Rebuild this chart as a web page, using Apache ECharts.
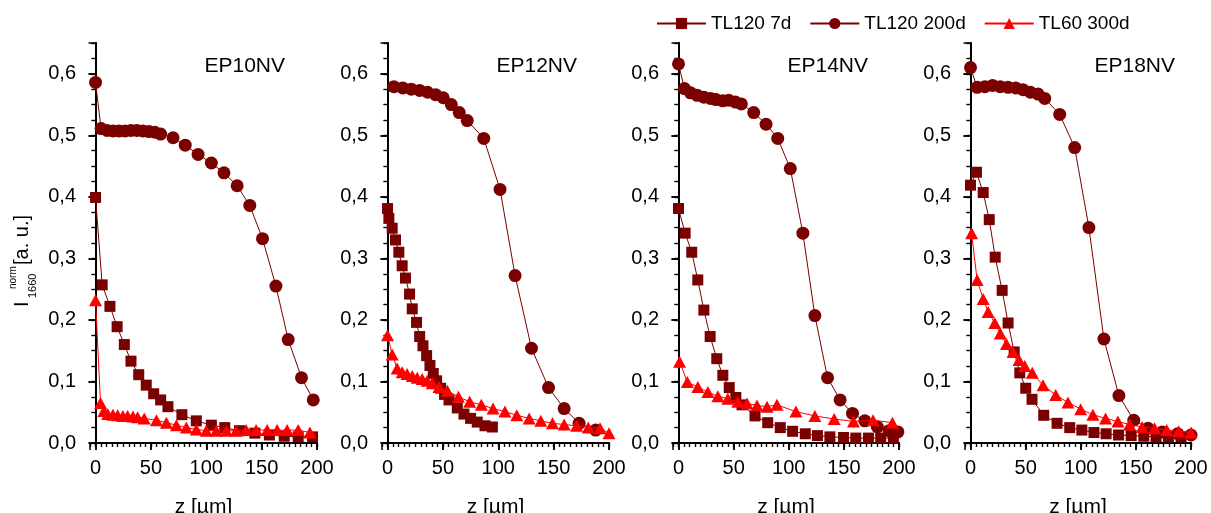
<!DOCTYPE html>
<html>
<head>
<meta charset="utf-8">
<script src="https://cdn.jsdelivr.net/npm/echarts@6/dist/echarts.min.js"></script>
<style>
html,body{margin:0;padding:0;background:#fff;}
#chart{width:1211px;height:513px;}
</style>
</head>
<body>
<div id="chart"></div>
<script>
// ---------- data (z [µm], I_1660^norm) ----------
const seriesNames = ['TL120 7d', 'TL120 200d', 'TL60 300d'];
const panelNames = ['EP10NV', 'EP12NV', 'EP14NV', 'EP18NV'];
const xTicks = [0, 50, 100, 150, 200];
const yTicks = [0, 0.1, 0.2, 0.3, 0.4, 0.5, 0.6];

const ep10_7d = [[0,0.399],[6,0.257],[13,0.222],[19.5,0.189],[26,0.160],[32,0.133],[39,0.111],[45.8,0.094],[52.5,0.080],[58.8,0.070],[65.4,0.059],[78,0.046],[91,0.036],[104.6,0.029],[116.7,0.025],[130,0.020],[143.9,0.016],[157,0.013],[170.4,0.011],[183,0.010],[196,0.010]];
const ep10_200d = [[0,0.586],[5,0.511],[10.4,0.508],[15.8,0.507],[21.2,0.507],[26.6,0.507],[32,0.508],[37.4,0.508],[42.8,0.507],[48.2,0.506],[53.6,0.505],[58.8,0.502],[70,0.496],[81,0.484],[92.6,0.469],[104.6,0.455],[116,0.439],[127.9,0.418],[139.3,0.386],[150.8,0.332],[162.9,0.255],[174,0.168],[186,0.106],[196.6,0.070]];
const ep10_300d = [[0,0.232],[4.5,0.065],[7.5,0.052],[11,0.047],[15.7,0.046],[20,0.045],[24.7,0.044],[29,0.044],[33.8,0.043],[38,0.042],[44,0.040],[55,0.037],[64,0.033],[73,0.029],[82,0.025],[91,0.022],[100,0.020],[109,0.020],[118,0.020],[127,0.020],[136,0.021],[145,0.021],[155,0.021],[164,0.021],[173,0.021],[183,0.021],[193.6,0.017]];

const ep12_7d = [[0,0.381],[1.2,0.365],[4.2,0.349],[7.2,0.330],[10.2,0.310],[13.2,0.288],[16.2,0.268],[19.9,0.242],[22.3,0.218],[26.2,0.196],[29,0.173],[32,0.158],[35.3,0.142],[38.3,0.126],[41.3,0.113],[44.3,0.101],[48,0.089],[51.5,0.079],[55.5,0.070],[63,0.057],[69,0.047],[75,0.040],[81,0.034],[88,0.028],[94.7,0.026]];
const ep12_200d = [[5.7,0.579],[13.8,0.577],[21.4,0.575],[29,0.573],[36.2,0.570],[43.4,0.566],[50.3,0.561],[57.6,0.550],[64.8,0.537],[72,0.524],[86.9,0.495],[101.6,0.412],[115.2,0.272],[130,0.154],[145.4,0.090],[159.5,0.056],[173,0.032],[188,0.021]];
const ep12_300d = [[0,0.175],[4.2,0.144],[8.7,0.121],[13.2,0.115],[17.7,0.112],[22.3,0.109],[26.8,0.106],[31.3,0.104],[35.8,0.101],[40.4,0.097],[46.4,0.091],[54,0.085],[64,0.075],[74.2,0.067],[84.7,0.062],[95.3,0.056],[106,0.051],[116.7,0.045],[127.9,0.040],[138.4,0.036],[149,0.032],[159.5,0.030],[170.7,0.028],[181.3,0.025],[191.9,0.024],[200,0.016]];

const ep14_7d = [[0,0.381],[6,0.341],[12,0.310],[17.5,0.265],[23,0.216],[28.7,0.173],[34.7,0.137],[40.2,0.110],[46,0.090],[52,0.074],[57.6,0.062],[69.4,0.044],[80.9,0.033],[92.3,0.025],[103.5,0.019],[115,0.015],[126,0.012],[137.3,0.010],[149.7,0.009],[160.8,0.008],[172.3,0.008],[183.4,0.008],[194.9,0.008]];
const ep14_200d = [[0,0.616],[5.4,0.576],[10.9,0.569],[16.9,0.565],[23,0.562],[29,0.560],[34,0.558],[40.2,0.556],[45.6,0.557],[51.6,0.554],[57,0.551],[68.2,0.537],[79.4,0.518],[90,0.495],[101.4,0.446],[112.8,0.341],[123.7,0.207],[135.2,0.106],[146.6,0.070],[157.8,0.048],[169,0.036],[180.4,0.026],[191,0.020],[199,0.018]];
const ep14_300d = [[1,0.132],[8,0.099],[17.5,0.091],[26.6,0.083],[35.7,0.076],[44.7,0.072],[53.8,0.067],[62.2,0.064],[71.2,0.061],[80.3,0.059],[89.3,0.062],[106.5,0.051],[123.7,0.044],[141.2,0.039],[158.7,0.035],[176.5,0.037],[194,0.033]];

const ep18_7d = [[0,0.419],[5.4,0.440],[11.5,0.407],[17,0.363],[22.4,0.302],[28.7,0.248],[34.1,0.195],[39.6,0.148],[44.7,0.114],[50.1,0.089],[55.8,0.071],[66.4,0.045],[78.5,0.032],[90,0.025],[101,0.021],[112,0.017],[123,0.015],[134.3,0.013],[145.7,0.012],[157.2,0.011],[168.3,0.010],[179.5,0.010],[191,0.010]];
const ep18_200d = [[0,0.610],[6,0.578],[13,0.579],[20,0.581],[27,0.579],[34,0.578],[41,0.577],[47.7,0.574],[54.3,0.570],[61.3,0.567],[67.3,0.560],[80.9,0.534],[94.5,0.480],[107.4,0.350],[121,0.169],[134.6,0.077],[148.1,0.037],[161,0.024],[174,0.018],[188,0.015],[200,0.013]];
const ep18_300d = [[1,0.341],[6,0.265],[11.5,0.234],[16,0.213],[22,0.195],[27,0.178],[32.6,0.161],[38.6,0.148],[44,0.135],[49.2,0.125],[56,0.114],[65.8,0.094],[77.3,0.078],[88.4,0.066],[99.9,0.055],[111,0.046],[122.5,0.040],[133.7,0.035],[144.3,0.030],[155.7,0.026],[166.9,0.024],[178,0.021],[188.9,0.019],[200,0.017]];

const panelData = [
  [ep10_7d, ep10_200d, ep10_300d],
  [ep12_7d, ep12_200d, ep12_300d],
  [ep14_7d, ep14_200d, ep14_300d],
  [ep18_7d, ep18_200d, ep18_300d]
];

// ---------- layout / style ----------
const FONT = 'Liberation Sans, Arial, Helvetica, sans-serif';
const DARK = '#7b0000';
const RED = '#ff0000';
const grids = [
  {left: 90, top: 43, width: 227, height: 400},
  {left: 382, top: 43, width: 227, height: 400},
  {left: 673, top: 43, width: 226, height: 400},
  {left: 965, top: 43, width: 226, height: 400}
];
const panelLabelX = [285, 577, 868, 1175];
const styles = [
  {symbol: 'rect', symbolSize: 11, color: DARK},
  {symbol: 'circle', symbolSize: 13, color: DARK},
  {symbol: 'triangle', symbolSize: [13, 12], color: RED}
];

const X_MIN = -5, X_MAX = 200, Y_MIN = 0, Y_MAX = 0.65;
const xAxes = [], yAxes = [], series = [], graphics = [];

function fmtY(v) {
  for (const t of yTicks) if (Math.abs(v - t) < 1e-9) return t.toFixed(1).replace('.', ',');
  return '';
}
function fmtX(v) {
  for (const t of xTicks) if (Math.abs(v - t) < 1e-9) return String(t);
  return '';
}

grids.forEach((g, i) => {
  const xb = xAxes.length;
  xAxes.push({
    gridIndex: i, type: 'value', position: 'bottom', min: X_MIN, max: X_MAX, splitNumber: 4,
    axisLine: {show: true, lineStyle: {color: '#000', width: 2}},
    axisTick: {show: true, inside: false, length: 7, lineStyle: {color: '#000', width: 1.5}},
    axisLabel: {show: true, formatter: fmtX, showMinLabel: false, color: '#000', fontSize: 20, fontFamily: FONT, margin: 15},
    splitLine: {show: false},
    name: 'z [µm]', nameLocation: 'middle', nameGap: 54,
    nameTextStyle: {color: '#000', fontSize: 21, fontFamily: FONT}
  });
  xAxes.push({
    gridIndex: i, type: 'value', position: 'bottom', min: X_MIN, max: X_MAX, interval: 5,
    axisLine: {show: false}, axisLabel: {show: false}, splitLine: {show: false},
    axisTick: {show: true, inside: false, length: 4, lineStyle: {color: '#000', width: 1.2}}
  });
  xAxes.push({
    gridIndex: i, type: 'value', position: 'top', min: X_MIN, max: X_MAX, splitNumber: 4,
    axisLine: {show: true, lineStyle: {color: '#000', width: 2}},
    axisTick: {show: true, inside: true, length: 7, lineStyle: {color: '#000', width: 1.5}},
    axisLabel: {show: false}, splitLine: {show: false}
  });
  xAxes.push({
    gridIndex: i, type: 'value', position: 'top', min: X_MIN, max: X_MAX, interval: 5,
    axisLine: {show: false}, axisLabel: {show: false}, splitLine: {show: false},
    axisTick: {show: true, inside: true, length: 4, lineStyle: {color: '#000', width: 1.2}}
  });

  const yb = yAxes.length;
  yAxes.push({
    gridIndex: i, type: 'value', position: 'left', min: Y_MIN, max: Y_MAX, interval: 0.1,
    axisLine: {show: true, lineStyle: {color: '#000', width: 2}},
    axisTick: {show: true, inside: false, length: 7, lineStyle: {color: '#000', width: 1.5}},
    axisLabel: {show: true, formatter: fmtY, showMaxLabel: false, color: '#000', fontSize: 20, fontFamily: FONT, margin: 14},
    splitLine: {show: false}
  });
  yAxes.push({
    gridIndex: i, type: 'value', position: 'left', min: Y_MIN, max: Y_MAX, interval: 0.025,
    axisLine: {show: false}, axisLabel: {show: false}, splitLine: {show: false},
    axisTick: {show: true, inside: false, length: 4, lineStyle: {color: '#000', width: 1.2}}
  });
  yAxes.push({
    gridIndex: i, type: 'value', position: 'right', min: Y_MIN, max: Y_MAX, interval: 0.1,
    axisLine: {show: true, lineStyle: {color: '#000', width: 2}},
    axisTick: {show: true, inside: true, length: 7, lineStyle: {color: '#000', width: 1.5}},
    axisLabel: {show: false}, splitLine: {show: false}
  });
  yAxes.push({
    gridIndex: i, type: 'value', position: 'right', min: Y_MIN, max: Y_MAX, interval: 0.025,
    axisLine: {show: false}, axisLabel: {show: false}, splitLine: {show: false},
    axisTick: {show: true, inside: true, length: 4, lineStyle: {color: '#000', width: 1.2}}
  });

  panelData[i].forEach((d, s) => {
    const st = styles[s];
    series.push({
      name: seriesNames[s], type: 'line', xAxisIndex: xb, yAxisIndex: yb,
      data: d, symbol: st.symbol, symbolSize: st.symbolSize, showAllSymbol: true,
      itemStyle: {color: st.color},
      lineStyle: {color: st.color, width: 1},
      z: 2 + s
    });
  });

  graphics.push({
    type: 'text', x: panelLabelX[i], y: 66,
    style: {text: panelNames[i], fill: '#000', font: '21px ' + FONT,
      align: 'right', textAlign: 'right', verticalAlign: 'middle', textVerticalAlign: 'middle'}
  });
});

// y-axis title: I_1660^norm [a. u.]
function vtext(txt, x, y, size) {
  return {type: 'text', x: x, y: y, rotation: Math.PI / 2,
    style: {text: txt, fill: '#000', font: size + 'px ' + FONT,
      align: 'left', textAlign: 'left', verticalAlign: 'middle', textVerticalAlign: 'middle'}};
}
graphics.push(vtext('I', 22, 307, 20));
graphics.push(vtext('1660', 33, 298, 11));
graphics.push(vtext('norm', 13, 289, 10));
graphics.push(vtext('[a. u.]', 22, 265, 20));

const chart = echarts.init(document.getElementById('chart'), null, {renderer: 'canvas'});
chart.setOption({
  animation: false,
  backgroundColor: '#fff',
  grid: grids.map(g => Object.assign({containLabel: false, outerBoundsMode: 'none'}, g)),
  legend: {
    data: seriesNames, left: 651, top: 9, itemWidth: 49, itemHeight: 14, itemGap: 18,
    textStyle: {color: '#000', fontSize: 19, fontFamily: FONT}
  },
  xAxis: xAxes,
  yAxis: yAxes,
  series: series,
  graphic: graphics
});
</script>
</body>
</html>
